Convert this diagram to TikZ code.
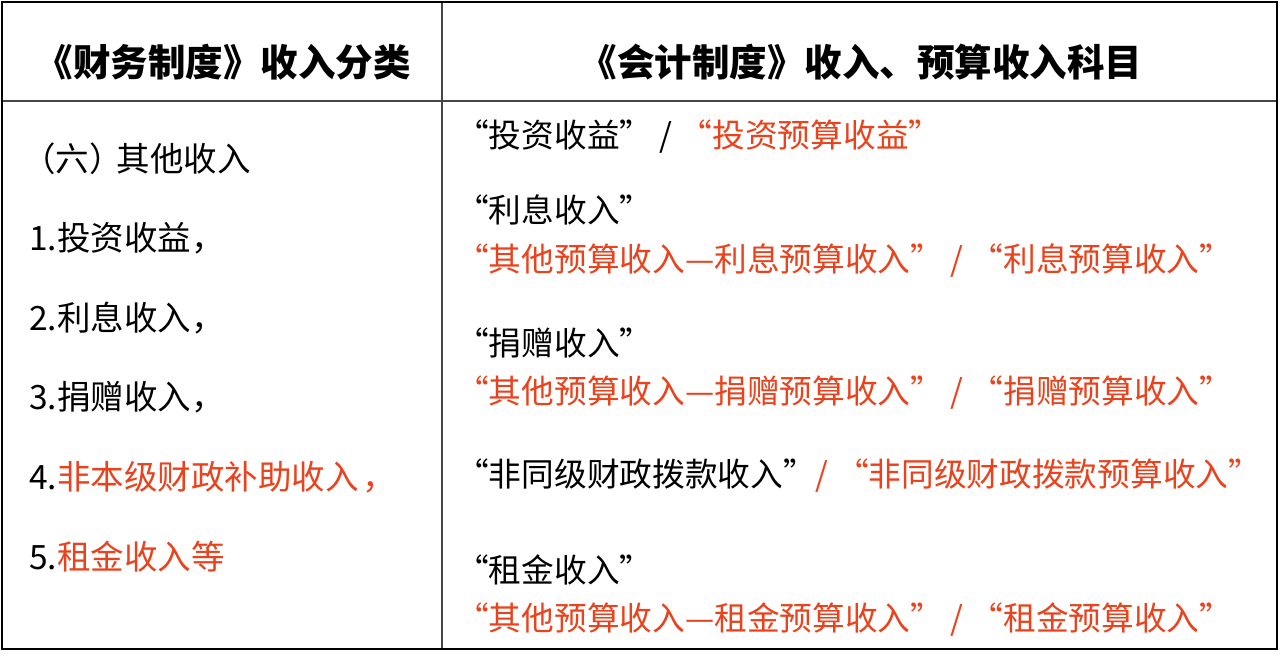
\documentclass[tikz,border=0pt]{standalone}
\usepackage{fontspec}
\setmainfont{Noto Sans CJK SC}
\definecolor{hl}{RGB}{234,66,28}
\definecolor{rule}{RGB}{70,70,70}
\begin{document}
\begin{tikzpicture}[x=1pt,y=-1pt,
  txt/.style={inner sep=0pt,anchor=base west,font=\fontsize{32.7}{40}\selectfont},
  ltxt/.style={inner sep=0pt,anchor=base west,font=\fontsize{33.5}{40}\selectfont},
  head/.style={inner sep=0pt,anchor=base,font=\fontsize{37.5}{44}\selectfont\bfseries}]
\useasboundingbox (0,0) rectangle (1280,657);
\fill[white] (0,0) rectangle (1280,657);
% grid
\coordinate (tl) at (2,2);
\coordinate (br) at (1277,649);
\coordinate (vt) at (442,2);
\coordinate (vb) at (442,649);
\coordinate (hl) at (2,101);
\coordinate (hr) at (1277,101);
\draw[rule,line width=2pt] (hl) -- (hr);
\draw[rule,line width=2pt] (vt) -- (vb);
\draw[black,line width=2.5pt] (tl) rectangle (br);
% headers
\node[head] (h1) at (223,76) {《财务制度》收入分类};
\node[head] (h2) at (861,76) {《会计制度》收入、预算收入科目};
% left column
\node[ltxt] (l0) at (22,171) {（六）\kern-6pt 其他收入};
\node[ltxt] (l1) at (29,250) {1.投资收益，};
\node[ltxt] (l2) at (29,330) {2.利息收入，};
\node[ltxt] (l3) at (29,409) {3.捐赠收入，};
\node[ltxt] (l4) at (29,489) {4.\textcolor{hl}{非本级财政补助收入\kern4pt，}};
\node[ltxt] (l5) at (29,569) {5.\textcolor{hl}{租金收入等}};
% right column
\node[txt] (r1) at (456,147) {“投资收益” / \textcolor{hl}{“投资预算收益”}};
\node[txt] (r2) at (456,222) {“利息收入”};
\node[txt,text=hl] (r3) at (456,271) {“其他预算收入—利息预算收入” / “利息预算收入”};
\node[txt] (r4) at (456,355) {“捐赠收入”};
\node[txt,text=hl] (r5) at (456,403) {“其他预算收入—捐赠预算收入” / “捐赠预算收入”};
\node[txt] (r6) at (456,486) {“非同级财政拨款收入”\textcolor{hl}{ / “非同级财政拨款预算收入”}};
\node[txt] (r7) at (456,582) {“租金收入”};
\node[txt,text=hl] (r8) at (456,630) {“其他预算收入—租金预算收入” / “租金预算收入”};
\end{tikzpicture}
\end{document}
